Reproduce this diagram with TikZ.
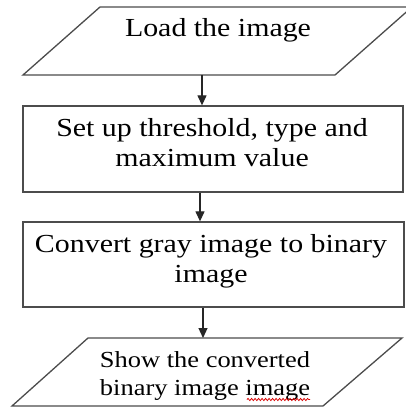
\documentclass[tikz,border=0pt]{standalone}
\usepackage{fontspec}
\newfontfamily\diag[FakeStretch=1.15]{Liberation Serif}
\usetikzlibrary{arrows.meta,decorations.pathmorphing}
\tikzset{
  shapeline/.style={draw=black!70, line width=1.3pt},
  boxnode/.style={shapeline, rectangle, inner sep=0pt},
  lbl/.style={inner sep=0pt, align=center, text=black},
  bigtxt/.style={lbl, font=\diag\fontsize{26}{30}\selectfont},
  smalltxt/.style={lbl, font=\diag\fontsize{23}{28}\selectfont},
  flow/.style={draw=black!85, line width=1.2pt, -{Triangle[length=10pt,width=9pt]}},
  spell/.style={draw=red!85!black, line width=0.75pt, decorate,
    decoration={snake, amplitude=1.1pt, segment length=3.5pt}}
}
\begin{document}
\begin{tikzpicture}[x=1pt,y=-1pt]
\useasboundingbox (0,0) rectangle (406,409);
\clip (0,0) rectangle (406,409);
\fill[white] (0,0) rectangle (406,409);
% parallelogram 1
\draw[shapeline] (100,7) -- (412,7) -- (335,75) -- (23,75) -- cycle;
\coordinate (p1b) at (202,75);
\node[bigtxt, anchor=base] (t1) at (218,37) {Load the image};
% box 2
\node[boxnode, minimum width=380pt, minimum height=86pt] (b2) at (213,149) {};
\node[bigtxt] (t2) at (212,143.1) {Set up threshold, type and\\maximum value};
% box 3
\node[boxnode, minimum width=381pt, minimum height=85pt] (b3) at (213.5,264.5) {};
\node[bigtxt] (t3) at (211,261.4) {Convert gray image to binary\\image};
% parallelogram 2
\draw[shapeline] (88,338) -- (402,338) -- (323,406) -- (12,406) -- cycle;
\coordinate (p2t) at (203,338);
\node[smalltxt] (t4) at (205,375.7) {Show the converted\\binary image image};
\coordinate (sq1) at (247,399.5);
\coordinate (sq2) at (310,399.5);
\draw[spell] (sq1) -- (sq2);
% connectors
\draw[flow] (p1b) -- (b2.north -| p1b);
\draw[flow] ([xshift=-13pt]b2.south) -- ([xshift=-13.5pt]b3.north);
\draw[flow] (b3.south -| p2t) -- (p2t);
\end{tikzpicture}
\end{document}
